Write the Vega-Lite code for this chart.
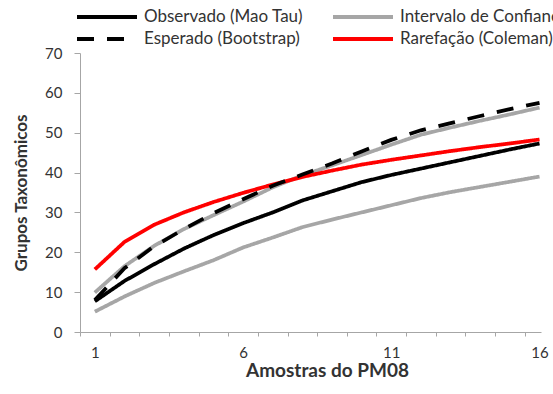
{
  "$schema": "https://vega.github.io/schema/vega-lite/v6.json",
  "width": 461,
  "height": 279,
  "autosize": {"type": "none"},
  "padding": {"left": 80, "top": 53, "right": 12, "bottom": 62},
  "background": "white",
  "config": {
    "font": "Lato",
    "view": {"stroke": null},
    "axis": {
      "domainColor": "#a6a6a6",
      "tickColor": "#a6a6a6",
      "labelFont": "Lato",
      "labelFontSize": 15,
      "labelColor": "#333333",
      "titleFont": "Lato",
      "titleFontWeight": "bold",
      "titleColor": "#333333",
      "grid": false
    }
  },
  "datasets": {
    "curvas": [
      {"serie": "Intervalo de Confiança (95%)", "linha": "inf", "amostra": 1, "valor": 5.1},
      {"serie": "Intervalo de Confiança (95%)", "linha": "inf", "amostra": 2, "valor": 8.9},
      {"serie": "Intervalo de Confiança (95%)", "linha": "inf", "amostra": 3, "valor": 12.3},
      {"serie": "Intervalo de Confiança (95%)", "linha": "inf", "amostra": 4, "valor": 15.2},
      {"serie": "Intervalo de Confiança (95%)", "linha": "inf", "amostra": 5, "valor": 18.0},
      {"serie": "Intervalo de Confiança (95%)", "linha": "inf", "amostra": 6, "valor": 21.2},
      {"serie": "Intervalo de Confiança (95%)", "linha": "inf", "amostra": 7, "valor": 23.7},
      {"serie": "Intervalo de Confiança (95%)", "linha": "inf", "amostra": 8, "valor": 26.3},
      {"serie": "Intervalo de Confiança (95%)", "linha": "inf", "amostra": 9, "valor": 28.2},
      {"serie": "Intervalo de Confiança (95%)", "linha": "inf", "amostra": 10, "valor": 30.0},
      {"serie": "Intervalo de Confiança (95%)", "linha": "inf", "amostra": 11, "valor": 31.8},
      {"serie": "Intervalo de Confiança (95%)", "linha": "inf", "amostra": 12, "valor": 33.6},
      {"serie": "Intervalo de Confiança (95%)", "linha": "inf", "amostra": 13, "valor": 35.1},
      {"serie": "Intervalo de Confiança (95%)", "linha": "inf", "amostra": 14, "valor": 36.4},
      {"serie": "Intervalo de Confiança (95%)", "linha": "inf", "amostra": 15, "valor": 37.7},
      {"serie": "Intervalo de Confiança (95%)", "linha": "inf", "amostra": 16, "valor": 39.0},
      {"serie": "Intervalo de Confiança (95%)", "linha": "sup", "amostra": 1, "valor": 9.9},
      {"serie": "Intervalo de Confiança (95%)", "linha": "sup", "amostra": 2, "valor": 16.5},
      {"serie": "Intervalo de Confiança (95%)", "linha": "sup", "amostra": 3, "valor": 21.6},
      {"serie": "Intervalo de Confiança (95%)", "linha": "sup", "amostra": 4, "valor": 25.8},
      {"serie": "Intervalo de Confiança (95%)", "linha": "sup", "amostra": 5, "valor": 29.3},
      {"serie": "Intervalo de Confiança (95%)", "linha": "sup", "amostra": 6, "valor": 32.7},
      {"serie": "Intervalo de Confiança (95%)", "linha": "sup", "amostra": 7, "valor": 36.3},
      {"serie": "Intervalo de Confiança (95%)", "linha": "sup", "amostra": 8, "valor": 39.3},
      {"serie": "Intervalo de Confiança (95%)", "linha": "sup", "amostra": 9, "valor": 41.8},
      {"serie": "Intervalo de Confiança (95%)", "linha": "sup", "amostra": 10, "valor": 44.4},
      {"serie": "Intervalo de Confiança (95%)", "linha": "sup", "amostra": 11, "valor": 47.0},
      {"serie": "Intervalo de Confiança (95%)", "linha": "sup", "amostra": 12, "valor": 49.5},
      {"serie": "Intervalo de Confiança (95%)", "linha": "sup", "amostra": 13, "valor": 51.3},
      {"serie": "Intervalo de Confiança (95%)", "linha": "sup", "amostra": 14, "valor": 53.0},
      {"serie": "Intervalo de Confiança (95%)", "linha": "sup", "amostra": 15, "valor": 54.6},
      {"serie": "Intervalo de Confiança (95%)", "linha": "sup", "amostra": 16, "valor": 56.3},
      {"serie": "Rarefação (Coleman)", "linha": "rar", "amostra": 1, "valor": 15.7},
      {"serie": "Rarefação (Coleman)", "linha": "rar", "amostra": 2, "valor": 22.6},
      {"serie": "Rarefação (Coleman)", "linha": "rar", "amostra": 3, "valor": 26.9},
      {"serie": "Rarefação (Coleman)", "linha": "rar", "amostra": 4, "valor": 30.0},
      {"serie": "Rarefação (Coleman)", "linha": "rar", "amostra": 5, "valor": 32.6},
      {"serie": "Rarefação (Coleman)", "linha": "rar", "amostra": 6, "valor": 34.9},
      {"serie": "Rarefação (Coleman)", "linha": "rar", "amostra": 7, "valor": 37.0},
      {"serie": "Rarefação (Coleman)", "linha": "rar", "amostra": 8, "valor": 38.9},
      {"serie": "Rarefação (Coleman)", "linha": "rar", "amostra": 9, "valor": 40.5},
      {"serie": "Rarefação (Coleman)", "linha": "rar", "amostra": 10, "valor": 42.0},
      {"serie": "Rarefação (Coleman)", "linha": "rar", "amostra": 11, "valor": 43.2},
      {"serie": "Rarefação (Coleman)", "linha": "rar", "amostra": 12, "valor": 44.3},
      {"serie": "Rarefação (Coleman)", "linha": "rar", "amostra": 13, "valor": 45.4},
      {"serie": "Rarefação (Coleman)", "linha": "rar", "amostra": 14, "valor": 46.4},
      {"serie": "Rarefação (Coleman)", "linha": "rar", "amostra": 15, "valor": 47.3},
      {"serie": "Rarefação (Coleman)", "linha": "rar", "amostra": 16, "valor": 48.3},
      {"serie": "Observado (Mao Tau)", "linha": "obs", "amostra": 1, "valor": 7.7},
      {"serie": "Observado (Mao Tau)", "linha": "obs", "amostra": 2, "valor": 12.8},
      {"serie": "Observado (Mao Tau)", "linha": "obs", "amostra": 3, "valor": 17.0},
      {"serie": "Observado (Mao Tau)", "linha": "obs", "amostra": 4, "valor": 20.9},
      {"serie": "Observado (Mao Tau)", "linha": "obs", "amostra": 5, "valor": 24.3},
      {"serie": "Observado (Mao Tau)", "linha": "obs", "amostra": 6, "valor": 27.3},
      {"serie": "Observado (Mao Tau)", "linha": "obs", "amostra": 7, "valor": 30.0},
      {"serie": "Observado (Mao Tau)", "linha": "obs", "amostra": 8, "valor": 33.0},
      {"serie": "Observado (Mao Tau)", "linha": "obs", "amostra": 9, "valor": 35.3},
      {"serie": "Observado (Mao Tau)", "linha": "obs", "amostra": 10, "valor": 37.6},
      {"serie": "Observado (Mao Tau)", "linha": "obs", "amostra": 11, "valor": 39.4},
      {"serie": "Observado (Mao Tau)", "linha": "obs", "amostra": 12, "valor": 41.0},
      {"serie": "Observado (Mao Tau)", "linha": "obs", "amostra": 13, "valor": 42.6},
      {"serie": "Observado (Mao Tau)", "linha": "obs", "amostra": 14, "valor": 44.2},
      {"serie": "Observado (Mao Tau)", "linha": "obs", "amostra": 15, "valor": 45.8},
      {"serie": "Observado (Mao Tau)", "linha": "obs", "amostra": 16, "valor": 47.3},
      {"serie": "Esperado (Bootstrap)", "linha": "esp", "amostra": 1, "valor": 8.0},
      {"serie": "Esperado (Bootstrap)", "linha": "esp", "amostra": 2, "valor": 16.0},
      {"serie": "Esperado (Bootstrap)", "linha": "esp", "amostra": 3, "valor": 21.5},
      {"serie": "Esperado (Bootstrap)", "linha": "esp", "amostra": 4, "valor": 25.8},
      {"serie": "Esperado (Bootstrap)", "linha": "esp", "amostra": 5, "valor": 29.8},
      {"serie": "Esperado (Bootstrap)", "linha": "esp", "amostra": 6, "valor": 33.3},
      {"serie": "Esperado (Bootstrap)", "linha": "esp", "amostra": 7, "valor": 36.7},
      {"serie": "Esperado (Bootstrap)", "linha": "esp", "amostra": 8, "valor": 39.5},
      {"serie": "Esperado (Bootstrap)", "linha": "esp", "amostra": 9, "valor": 42.3},
      {"serie": "Esperado (Bootstrap)", "linha": "esp", "amostra": 10, "valor": 45.3},
      {"serie": "Esperado (Bootstrap)", "linha": "esp", "amostra": 11, "valor": 48.2},
      {"serie": "Esperado (Bootstrap)", "linha": "esp", "amostra": 12, "valor": 50.6},
      {"serie": "Esperado (Bootstrap)", "linha": "esp", "amostra": 13, "valor": 52.4},
      {"serie": "Esperado (Bootstrap)", "linha": "esp", "amostra": 14, "valor": 54.2},
      {"serie": "Esperado (Bootstrap)", "linha": "esp", "amostra": 15, "valor": 55.9},
      {"serie": "Esperado (Bootstrap)", "linha": "esp", "amostra": 16, "valor": 57.5}
    ]
  },
  "data": {"name": "curvas"},
  "mark": {"type": "line", "strokeWidth": 3.75, "strokeCap": "butt"},
  "encoding": {
    "x": {
      "field": "amostra",
      "type": "quantitative",
      "scale": {"domain": [0.5, 16.05], "nice": false, "zero": false},
      "axis": {
        "title": "Amostras do PM08",
        "titleFontSize": 19,
        "titleX": 247,
        "titleY": 29,
        "titleBaseline": "top",
        "values": [0.5, 1, 1.5, 2, 2.5, 3, 3.5, 4, 4.5, 5, 5.5, 6, 6.5, 7, 7.5, 8, 8.5, 9, 9.5, 10, 10.5, 11, 11.5, 12, 12.5, 13, 13.5, 14, 14.5, 15, 15.5, 16],
        "labelExpr": "(datum.value == 1 || datum.value == 6 || datum.value == 11 || datum.value == 16) ? ('' + datum.value) : ''",
        "tickOpacity": {"condition": {"test": "datum.value % 1 != 0", "value": 1}, "value": 0},
        "tickSize": 4,
        "labelPadding": 9,
        "labelOverlap": false,
        "labelFlush": false,
        "labelBound": false
      }
    },
    "y": {
      "field": "valor",
      "type": "quantitative",
      "scale": {"domain": [0, 70], "nice": false},
      "axis": {
        "title": "Grupos Taxonômicos",
        "titleFontSize": 17,
        "titleX": -59,
        "titleY": 139.5,
        "titleAngle": -90,
        "titleBaseline": "middle",
        "titleAlign": "center",
        "values": [0, 10, 20, 30, 40, 50, 60, 70],
        "tickSize": 6,
        "labelPadding": 12
      }
    },
    "color": {
      "field": "serie",
      "type": "nominal",
      "scale": {
        "domain": ["Observado (Mao Tau)", "Intervalo de Confiança (95%)", "Esperado (Bootstrap)", "Rarefação (Coleman)"],
        "range": ["#000000", "#a6a6a6", "#000000", "#ff0000"]
      },
      "legend": {
        "title": null,
        "orient": "none",
        "legendX": 15,
        "legendY": -48,
        "direction": "horizontal",
        "columns": 2,
        "symbolType": "M-3,0H3",
        "symbolSize": 400,
        "symbolStrokeWidth": 4,
        "labelFont": "Lato",
        "labelFontSize": 17,
        "labelColor": "#333333",
        "labelOffset": 25,
        "labelLimit": 400,
        "columnPadding": 22,
        "rowPadding": 2,
        "padding": 0
      }
    },
    "strokeDash": {
      "field": "serie",
      "type": "nominal",
      "scale": {
        "domain": ["Observado (Mao Tau)", "Intervalo de Confiança (95%)", "Esperado (Bootstrap)", "Rarefação (Coleman)"],
        "range": [[1, 0], [1, 0], [17, 13], [1, 0]]
      }
    },
    "detail": {"field": "linha", "type": "nominal"}
  }
}
